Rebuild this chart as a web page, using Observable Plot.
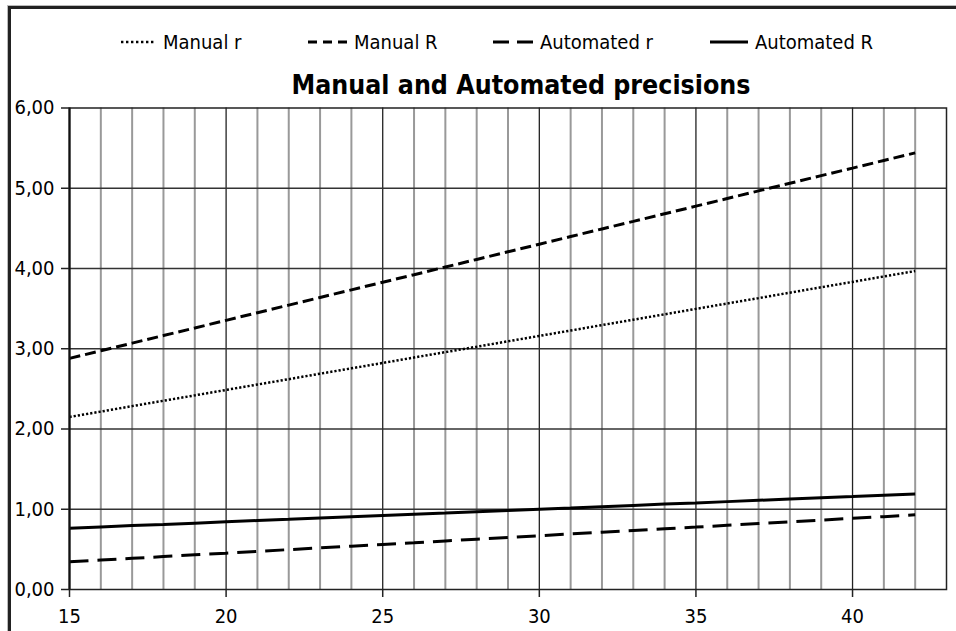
<!DOCTYPE html>
<html>
<head>
<meta charset="utf-8">
<script src="https://cdn.jsdelivr.net/npm/d3@7"></script>
<script src="https://cdn.jsdelivr.net/npm/@observablehq/plot@0.6"></script>
<style>
  html, body { margin: 0; padding: 0; background: #fff; }
  #wrap { position: relative; width: 956px; height: 631px; overflow: hidden; background: #fff;
          font-family: "DejaVu Sans Condensed", "DejaVu Sans", sans-serif; font-stretch: condensed; color: #000; }
  #frame { position: absolute; left: 8px; top: 6px; width: 960px; height: 622px; z-index: 5;
           border-left: 3px solid #222; border-top: 3px solid #222; border-bottom: 1px solid #999;
           box-shadow: -1px -1px 0 #bbb; pointer-events: none; }
  .leg { position: absolute; top: 30px; height: 24px; display: flex; align-items: center; font-size: 20px; white-space: nowrap; z-index: 3; }
  .leg svg { margin-right: 7px; }
  #title { position: absolute; left: 0; width: 1042px; text-align: center; top: 69px; font-size: 26.5px; font-weight: bold; white-space: nowrap; z-index: 3; }
  #chart { position: absolute; left: 0; top: 95px; z-index: 1; }
</style>
</head>
<body>
<div id="wrap">
  <div id="frame"></div>
  <div id="legend"></div>
  <div id="title">Manual and Automated precisions</div>
  <div id="chart"></div>
</div>
<script>
const depths = [15,16,17,18,19,20,21,22,23,24,25,26,27,28,29,30,31,32,33,34,35,36,37,38,39,40,41,42];
const manualSmallR = [2.150,2.217,2.285,2.352,2.419,2.487,2.554,2.621,2.689,2.756,2.823,2.891,2.958,3.025,3.093,3.160,3.227,3.295,3.362,3.429,3.497,3.564,3.631,3.699,3.766,3.833,3.901,3.968];
const manualBigR = [2.880,2.975,3.070,3.165,3.259,3.354,3.449,3.544,3.639,3.734,3.829,3.923,4.018,4.113,4.208,4.303,4.398,4.493,4.587,4.682,4.777,4.872,4.967,5.062,5.157,5.251,5.346,5.441];
const automatedSmallR = [0.345,0.367,0.388,0.410,0.432,0.453,0.475,0.497,0.518,0.540,0.562,0.583,0.605,0.627,0.648,0.670,0.692,0.713,0.735,0.757,0.778,0.800,0.822,0.843,0.865,0.887,0.908,0.930];
const automatedBigR = [0.764,0.780,0.796,0.811,0.827,0.843,0.859,0.874,0.890,0.906,0.922,0.938,0.953,0.969,0.985,1.001,1.016,1.032,1.048,1.064,1.079,1.095,1.111,1.127,1.143,1.158,1.174,1.190];
const seriesNames = ["Manual r", "Manual R", "Automated r", "Automated R"];
const xTicks = [15,20,25,30,35,40];
const yTicks = [0,1,2,3,4,5,6];
const minorX = [16,17,18,19,21,22,23,24,26,27,28,29,31,32,33,34,36,37,38,39,41,42];
const majorX = [20,25,30,35,40];

const seriesValues = [manualSmallR, manualBigR, automatedSmallR, automatedBigR];
const styles = [
  {stroke: "#000", strokeWidth: 2.5, strokeDasharray: "2.2,2"},
  {stroke: "#000", strokeWidth: 3, strokeDasharray: "11,5"},
  {stroke: "#000", strokeWidth: 3, strokeDasharray: "19,9"},
  {stroke: "#000", strokeWidth: 3}
];

// legend
const legendPos = [{x: 121, w: 35, dash: "2.4,2.6"}, {x: 308, w: 39, dash: "9,6"}, {x: 493, w: 40, dash: "16,8"}, {x: 710, w: 38, dash: null}];
const legend = document.getElementById("legend");
seriesNames.forEach((name, i) => {
  const p = legendPos[i];
  const d = document.createElement("div");
  d.className = "leg";
  d.style.left = p.x + "px";
  d.innerHTML = `<svg width="${p.w}" height="6"><line x1="0" x2="${p.w}" y1="3" y2="3" stroke="#000" stroke-width="${i===0?2.6:3}" ${p.dash ? `stroke-dasharray="${p.dash}"` : ""}/></svg><span>${name}</span>`;
  legend.appendChild(d);
});

const fmt = d => d.toFixed(2).replace(".", ",");

const lineMarks = seriesValues.map((vals, i) =>
  Plot.line(depths.map((x, j) => ({x, y: vals[j]})), {x: "x", y: "y", strokeLinecap: "butt", strokeLinejoin: "miter", ...styles[i]})
);

const chart = Plot.plot({
  width: 956,
  height: 532,
  marginLeft: 69,
  marginRight: 10,
  marginTop: 12.5,
  marginBottom: 38,
  style: {fontFamily: '"DejaVu Sans Condensed", "DejaVu Sans", sans-serif', fontSize: "20px", color: "#000", background: "transparent", fontStretch: "condensed"},
  x: {domain: [15, 43]},
  y: {domain: [0, 6]},
  marks: [
    Plot.ruleX(minorX, {stroke: "#999", strokeWidth: 2}),
    Plot.ruleX(majorX, {stroke: "#222", strokeWidth: 1.3}),
    Plot.ruleY([1,2,3,4,5], {stroke: "#333", strokeWidth: 1.3}),
    ...lineMarks,
    Plot.frame({stroke: "#222", strokeWidth: 1.5}),
    Plot.ruleX([15], {stroke: "#111", strokeWidth: 2.2}),
    Plot.axisY({ticks: yTicks, tickFormat: fmt, tickSize: 8, tickPadding: 7, label: null, fontSize: 20, stroke: "#222", strokeWidth: 1.5}),
    Plot.axisX({ticks: xTicks, tickFormat: d => String(d), tickSize: 8, tickPadding: 11, label: null, fontSize: 20, stroke: "#222", strokeWidth: 1.5})
  ]
});
document.getElementById("chart").appendChild(chart);
</script>
</body>
</html>
